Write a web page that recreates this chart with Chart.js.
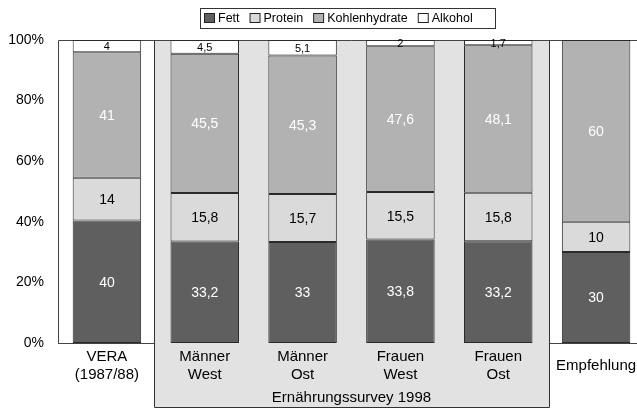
<!DOCTYPE html>
<html>
<head>
<meta charset="utf-8">
<script src="https://cdn.jsdelivr.net/npm/chart.js@4/dist/chart.umd.min.js"></script>
<style>
  html, body { margin: 0; padding: 0; background: #fff; overflow: hidden; }
  #wrap { width: 637px; height: 409px; overflow: hidden; }
</style>
</head>
<body>
<div id="wrap"><canvas id="chart" width="645" height="409"></canvas></div>
<script>
const categories = [["VERA", "(1987/88)"], ["Männer", "West"], ["Männer", "Ost"], ["Frauen", "West"], ["Frauen", "Ost"], ["Empfehlung"]];
const fett = [40, 33.2, 33, 33.8, 33.2, 30];
const protein = [14, 15.8, 15.7, 15.5, 15.8, 10];
const kohlenhydrate = [41, 45.5, 45.3, 47.6, 48.1, 60];
const alkohol = [4, 4.5, 5.1, 2, 1.7, 0];
const yTicks = [0, 20, 40, 60, 80, 100];
const bandLabel = "Ernährungssurvey 1998";
const bandFrom = 1, bandTo = 4;

const FONT = "'Liberation Sans', Arial, Helvetica, sans-serif";

// Säulen auf 100 % normieren
const totals = fett.map((v, i) => v + protein[i] + kohlenhydrate[i] + alkohol[i]);
const pct = (arr) => arr.map((v, i) => (v ? (v / totals[i]) * 100 : null));

const series = [
  { label: "Fett", raw: fett, color: "#5f5f5f", text: "#fff", size: 14 },
  { label: "Protein", raw: protein, color: "#dadada", text: "#000", size: 14 },
  { label: "Kohlenhydrate", raw: kohlenhydrate, color: "#b2b2b2", text: "#fff", size: 14 },
  { label: "Alkohol", raw: alkohol, color: "#ffffff", text: "#000", size: 11 },
];

// grauer Kasten hinter dem Survey
const bandPlugin = {
  id: "band",
  beforeDatasetsDraw(chart) {
    const { ctx, chartArea, scales } = chart;
    const x = scales.x;
    const left = Math.round((x.getPixelForValue(bandFrom - 1) + x.getPixelForValue(bandFrom)) / 2) - 2 + 0.5;
    const right = Math.round((x.getPixelForValue(bandTo) + x.getPixelForValue(bandTo + 1)) / 2) + 2 + 0.5;
    const bottom = chart.height - 1.5;
    ctx.save();
    ctx.fillStyle = "#e2e2e2";
    ctx.fillRect(left, chartArea.top, right - left, bottom - chartArea.top);
    ctx.strokeStyle = "#333";
    ctx.lineWidth = 1;
    ctx.beginPath();
    ctx.moveTo(left, chartArea.top);
    ctx.lineTo(left, bottom);
    ctx.lineTo(right, bottom);
    ctx.lineTo(right, chartArea.top);
    ctx.stroke();
    // Rahmen des Diagramms
    ctx.strokeStyle = "#444";
    ctx.beginPath();
    ctx.moveTo(chartArea.left + 0.5, chartArea.bottom);
    ctx.lineTo(chartArea.left + 0.5, chartArea.top + 0.5);
    ctx.lineTo(chartArea.right, chartArea.top + 0.5);
    ctx.stroke();
    ctx.restore();
  },
  afterDraw(chart) {
    const { ctx, scales } = chart;
    const x = scales.x;
    const base = chart.chartArea.bottom;
    ctx.save();
    ctx.fillStyle = "#000";
    ctx.font = "15px " + FONT;
    ctx.textAlign = "center";
    ctx.textBaseline = "middle";
    categories.forEach((lines, i) => {
      const cx = x.getPixelForValue(i);
      if (lines.length === 1) {
        ctx.fillText(lines[0], cx, base + 23);
      } else {
        lines.forEach((t, j) => ctx.fillText(t, cx, base + 14 + j * 18));
      }
    });
    const mid = (x.getPixelForValue(bandFrom) + x.getPixelForValue(bandTo)) / 2;
    ctx.fillText(bandLabel, mid, base + 55);

    // Legende mit Rahmen
    ctx.font = "12.5px " + FONT;
    ctx.textAlign = "left";
    let lx = 204;
    const ly = 18;
    series.forEach((s) => {
      ctx.fillStyle = s.color;
      ctx.fillRect(lx + 0.5, ly - 4.5, 10, 9);
      ctx.strokeStyle = "#222";
      ctx.strokeRect(lx + 0.5, ly - 4.5, 10, 9);
      ctx.fillStyle = "#000";
      ctx.fillText(s.label, lx + 14, ly + 1);
      lx += 14 + ctx.measureText(s.label).width + 10;
    });
    ctx.strokeStyle = "#333";
    ctx.strokeRect(200.5, 8.5, 295, 20);
    ctx.restore();
  },
};

// Werte in die Säulen schreiben
const valuePlugin = {
  id: "values",
  afterDatasetsDraw(chart) {
    const { ctx } = chart;
    ctx.save();
    ctx.textAlign = "center";
    ctx.textBaseline = "middle";
    series.forEach((s, di) => {
      const meta = chart.getDatasetMeta(di);
      meta.data.forEach((bar, i) => {
        if (!s.raw[i]) return;
        ctx.fillStyle = s.text;
        ctx.font = s.size + "px " + FONT;
        ctx.fillText(String(s.raw[i]).replace(".", ","), bar.x, (bar.y + bar.base) / 2 + 1);
      });
    });
    ctx.restore();
  },
};

new Chart(document.getElementById("chart"), {
  type: "bar",
  data: {
    labels: categories,
    datasets: series.map((s) => ({
      label: s.label,
      data: pct(s.raw),
      backgroundColor: s.color,
      borderColor: "#2a2a2a",
      borderWidth: 1,
      borderSkipped: false,
      barPercentage: 0.7,
      categoryPercentage: 1,
    })),
  },
  options: {
    responsive: false,
    animation: false,
    devicePixelRatio: 1,
    layout: { padding: { top: 40, bottom: 58, right: 0, left: 0 } },
    plugins: {
      legend: { display: false },
      tooltip: { enabled: false },
    },
    scales: {
      x: {
        stacked: true,
        grid: { display: false },
        border: { display: true, color: "#444" },
        ticks: { display: false },
      },
      y: {
        stacked: true,
        min: 0,
        max: 100,
        afterBuildTicks: (scale) => { scale.ticks = yTicks.map((v) => ({ value: v })); },
        afterFit: (scale) => { scale.width = 58; },
        grid: { display: false },
        border: { display: false },
        ticks: {
          color: "#000",
          padding: 6,
          font: { family: FONT, size: 14 },
          callback: (v) => v + "%",
        },
      },
    },
  },
  plugins: [bandPlugin, valuePlugin],
});
</script>
</body>
</html>
